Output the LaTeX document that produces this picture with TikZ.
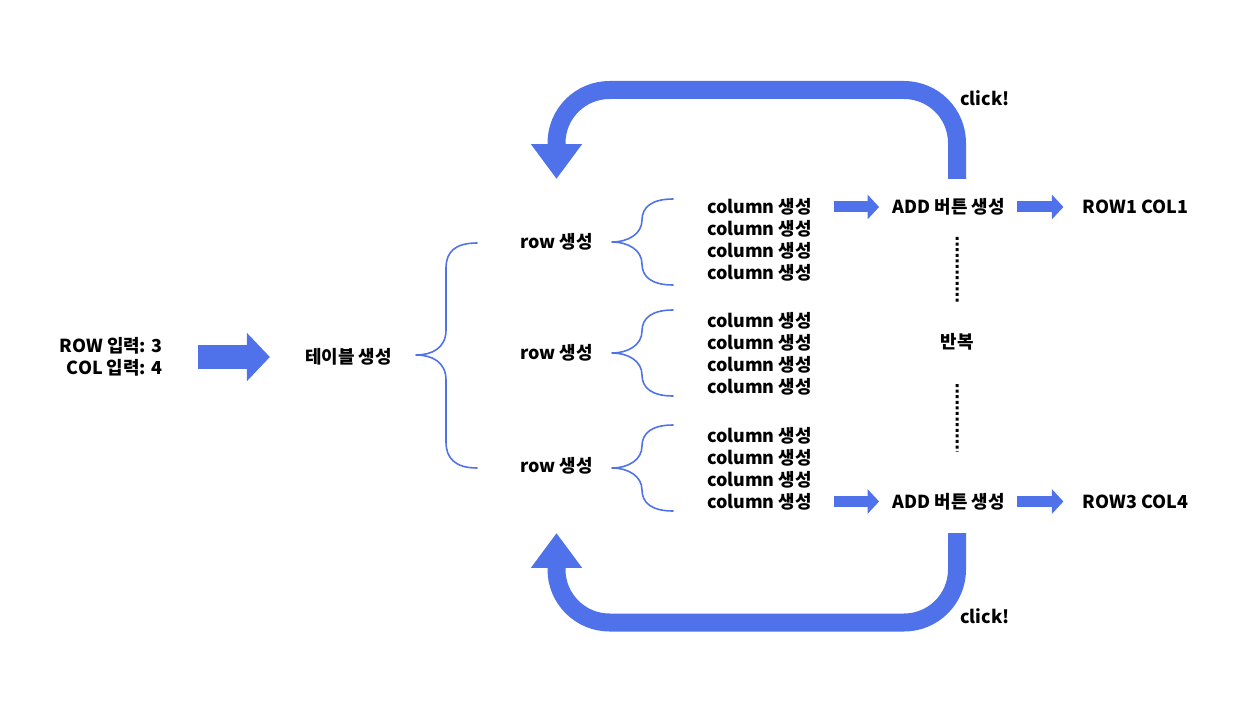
\documentclass[tikz,border=0pt]{standalone}
\usepackage{fontspec}
\setmainfont{Noto Sans CJK KR}
\usepackage{tikz}
\usetikzlibrary{arrows.meta,calc}
\definecolor{clickblue}{HTML}{4F72EA}

\begin{document}
\begin{tikzpicture}[line cap=round,line join=round,x=0.02cm,y=-0.02cm,
lbl/.style={inner sep=0pt,font=\fontsize{10.2pt}{12.5pt}\selectfont\bfseries},
fatarrow/.style={line cap=butt,color=clickblue,line width=0.48cm,-{Triangle[width=0.94cm,length=0.46cm]}},
smallarrow/.style={line cap=butt,color=clickblue,line width=0.22cm,-{Triangle[width=0.48cm,length=0.23cm]}},
loopline/.style={line cap=butt,color=clickblue,line width=0.36cm,rounded corners=1.06cm,-{Triangle[width=0.98cm,length=0.7cm]}},
bracelike/.style={color=clickblue,line width=0.9pt},
repdots/.style={line cap=butt,line width=0.06cm,dash pattern=on 0.06cm off 0.052cm}]
\useasboundingbox (0,0) rectangle (1260,709);
\node[lbl,align=right,anchor=east] (input) at (163,357) {ROW 입력: 3\\COL 입력: 4};
\node[lbl] (table) at (348.5,357) {테이블 생성};
\foreach \i/\y in {1/242,2/353,3/466}
\node[lbl] (row\i) at (556.5,\y) {row 생성};
\foreach \i/\c in {1/240,2/353.5,3/468.5}
\foreach \j in {1,...,4}
\node[lbl] (col\i\j) at (759.5,{\c-55+22*\j}) {column 생성};
\node[lbl] (add1) at (948.5,207) {ADD 버튼 생성};
\node[lbl] (add3) at (948.5,501.5) {ADD 버튼 생성};
\node[lbl] (out1) at (1135.5,207) {ROW1 COL1};
\node[lbl] (out3) at (1135.5,501.5) {ROW3 COL4};
\node[lbl] (rep) at (957,342) {반복};
\node[lbl] (click1) at (985,98) {click!};
\node[lbl] (click3) at (985,616) {click!};
\draw[bracelike] (477,243) .. controls (455,243) and (446,252) .. (446,268) -- (446,330) .. controls (446,348) and (432,355) .. (416,355) .. controls (432,355) and (446,362) .. (446,380) -- (446,442) .. controls (446,458) and (455,468) .. (477,468);
\foreach \t in {242,353,468}
\draw[bracelike] (673,{\t-43}) .. controls (652,{\t-43}) and (642,{\t-35}) .. (642,{\t-22}) .. controls (642,{\t-8}) and (628,\t) .. (612,\t) .. controls (628,\t) and (642,{\t+8}) .. (642,{\t+22}) .. controls (642,{\t+35}) and (652,{\t+43}) .. (673,{\t+43});
\draw[fatarrow,shorten <=0.7cm,shorten >=0.7cm] (input.east) -- (table.west);
\draw[smallarrow,shorten <=0.44cm,shorten >=0.26cm] (col11.east) -- (add1.west);
\draw[smallarrow,shorten <=0.24cm,shorten >=0.38cm] (add1.east) -- (out1.west);
\draw[smallarrow,shorten <=0.44cm,shorten >=0.26cm] (col34.east) -- (add3.west);
\draw[smallarrow,shorten <=0.24cm,shorten >=0.38cm] (add3.east) -- (out3.west);
\draw[repdots] ($(add1)+(8.5,30)$) -- ($(rep)+(0,-38)$);
\draw[repdots] ($(rep)+(0,42)$) -- ($(add3)+(8.5,-50)$);
\draw[loopline] ($(add1)+(8.5,-28)$) |- ($(row1)+(0,-152)$) -- ($(row1)+(0,-63)$);
\draw[loopline] ($(add3)+(8.5,31.5)$) |- ($(row3)+(0,156.5)$) -- ($(row3)+(0,67)$);
\end{tikzpicture}
\end{document}
